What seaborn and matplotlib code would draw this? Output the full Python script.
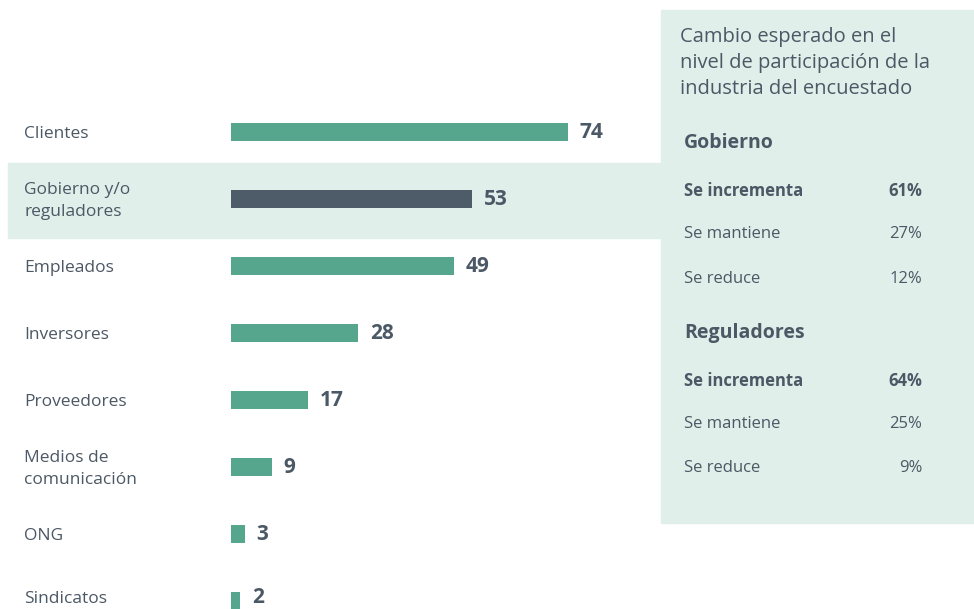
import pandas as pd
import matplotlib.pyplot as plt
import matplotlib.transforms as mtransforms
from matplotlib.patches import Rectangle
import seaborn as sns

# datos
categorias = ['Clientes', 'Gobierno y/o\nreguladores', 'Empleados', 'Inversores',
              'Proveedores', 'Medios de\ncomunicación', 'ONG', 'Sindicatos']
valores = [74, 53, 49, 28, 17, 9, 3, 2]
destacado = 'Gobierno y/o\nreguladores'

panel_titulo = 'Cambio esperado en el\nnivel de participación de la\nindustria del encuestado'
gobierno_filas = ['Se incrementa', 'Se mantiene', 'Se reduce']
gobierno_vals = ['61%', '27%', '12%']
reguladores_filas = ['Se incrementa', 'Se mantiene', 'Se reduce']
reguladores_vals = ['64%', '25%', '9%']

verde = '#56a68e'
oscuro = '#4d5c68'
texto = '#4b5865'
fondo = '#e1efea'

sns.set_theme(style='white')
plt.rcParams['font.family'] = ['Open Sans', 'DejaVu Sans']

df = pd.DataFrame({'categoria': categorias, 'valor': valores})
df['grupo'] = ['d' if c == destacado else 'n' for c in categorias]

W, H = 974, 609
fig = plt.figure(figsize=(W / 100, H / 100), dpi=100)

# fondos
fig.patches.append(Rectangle((8 / W, 1 - 238 / H), (661 - 8) / W, 75 / H,
                             transform=fig.transFigure, color=fondo, zorder=0))
fig.patches.append(Rectangle((661 / W, 1 - 523 / H), (974 - 661) / W, 513 / H,
                             transform=fig.transFigure, color=fondo, zorder=0))

# ejes: x=0 en px 231, escala 4.55 px/unidad
ax_left, ax_right = 231, 655
ax_top, ax_bot = 98.5, 634.5
ax = fig.add_axes([ax_left / W, 1 - ax_bot / H, (ax_right - ax_left) / W, (ax_bot - ax_top) / H])
ax.patch.set_alpha(0)
ax.set_zorder(3)

sns.barplot(data=df, y='categoria', x='valor', hue='grupo', orient='h',
            palette={'n': verde, 'd': oscuro}, dodge=False, legend=False,
            width=0.27, saturation=1, linewidth=0, ax=ax)

ax.set_xlim(0, (ax_right - ax_left) / 4.55)
ax.set_ylim(7.5, -0.5)
ax.set_yticks([])
ax.set_xticks([])
ax.set_xlabel('')
ax.set_ylabel('')
for s in ax.spines.values():
    s.set_visible(False)

trans = mtransforms.blended_transform_factory(fig.transFigure, ax.transData)
for i, (c, v) in enumerate(zip(categorias, valores)):
    # la ultima fila queda al borde de la figura: subirla un poco
    dy = -0.06 if i == len(categorias) - 1 else 0.0
    ax.text(24 / W, i + 0.03 + dy, c, transform=trans, ha='left', va='center',
            fontsize=12.5, color=texto, linespacing=1.55)
    ax.text(v + 2.6, i + 0.01 + dy, str(v), ha='left', va='center', fontsize=15,
            fontweight='bold', color=texto)

# panel derecho
def fy(py):
    return 1 - py / H

fig.text(680 / W, fy(63), panel_titulo, ha='left', va='center', fontsize=14.5,
         color=texto, linespacing=1.42)

fig.text(684 / W, fy(143), 'Gobierno', ha='left', va='center', fontsize=14,
         fontweight='bold', color=texto)
for j, (f, v, y) in enumerate(zip(gobierno_filas, gobierno_vals, [189, 232, 277])):
    w = 'bold' if j == 0 else 'normal'
    fig.text(684 / W, fy(y + 1.5), f, ha='left', va='center', fontsize=12, fontweight=w, color=texto)
    fig.text(922 / W, fy(y + 1.5), v, ha='right', va='center', fontsize=12, fontweight=w, color=texto)

fig.text(684 / W, fy(333), 'Reguladores', ha='left', va='center', fontsize=14,
         fontweight='bold', color=texto)
for j, (f, v, y) in enumerate(zip(reguladores_filas, reguladores_vals, [379, 423, 467])):
    w = 'bold' if j == 0 else 'normal'
    fig.text(684 / W, fy(y + 1.5), f, ha='left', va='center', fontsize=12, fontweight=w, color=texto)
    fig.text(922 / W, fy(y + 1.5), v, ha='right', va='center', fontsize=12, fontweight=w, color=texto)

fig.savefig('out.png', dpi=100)
